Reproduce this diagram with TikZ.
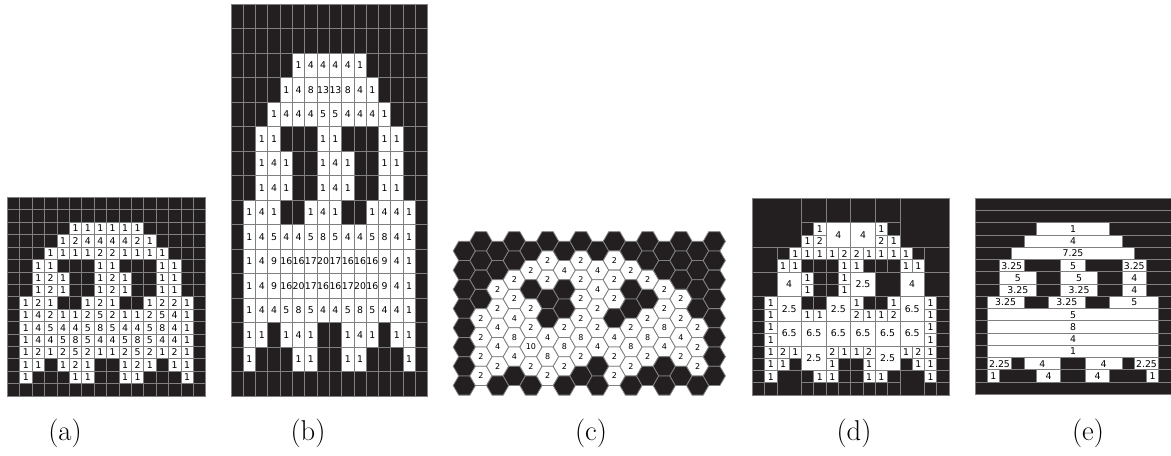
\documentclass[tikz,border=0pt]{standalone}
\usepackage{fontspec}
\usepackage{tikz}
\newfontfamily\cellfont{DejaVu Sans}
\definecolor{cellblack}{HTML}{231F20}
\definecolor{rule}{gray}{0.5}

\begin{document}
\begin{tikzpicture}[x=0.75pt,y=-0.75pt,
  blk/.style={fill=cellblack,draw=rule,line width=0.6pt},
  wht/.style={fill=white,draw=rule,line width=0.6pt},
  gridline/.style={draw=rule,line width=0.6pt},
  lbl/.style={font=\cellfont\fontsize{7}{7}\selectfont,inner sep=0pt},
  hexlbl/.style={font=\cellfont\fontsize{6}{6}\selectfont,inner sep=0pt},
  captext/.style={font=\fontsize{21.5}{25}\selectfont}]
\useasboundingbox (0,0) rectangle (1171,456);

% (a) pixel values
\begin{scope}[shift={(7.3,197.5)},scale=12.4]
\filldraw[blk] (0,0) rectangle (16,16);
\foreach \i in {1,...,15} {
  \draw[gridline] (\i,0)--(\i,16);
  \draw[gridline] (0,\i)--(16,\i);
}
\foreach \rowvals [count=\r from 0] in {
  {0,0,0,0,0,0,0,0,0,0,0,0,0,0,0,0},
  {0,0,0,0,0,0,0,0,0,0,0,0,0,0,0,0},
  {0,0,0,0,0,1,1,1,1,1,1,0,0,0,0,0},
  {0,0,0,0,1,2,4,4,4,4,2,1,0,0,0,0},
  {0,0,0,1,1,1,1,2,2,1,1,1,1,0,0,0},
  {0,0,1,1,0,0,0,1,1,0,0,0,1,1,0,0},
  {0,0,1,2,1,0,0,1,2,1,0,0,1,1,0,0},
  {0,0,1,2,1,0,0,1,2,1,0,0,1,1,0,0},
  {0,1,2,1,0,0,1,2,1,0,0,1,2,2,1,0},
  {0,1,4,2,1,1,2,5,2,1,1,2,5,4,1,0},
  {0,1,4,5,4,4,5,8,5,4,4,5,8,4,1,0},
  {0,1,4,4,5,8,5,4,4,5,8,5,4,4,1,0},
  {0,1,2,1,2,5,2,1,1,2,5,2,1,2,1,0},
  {0,1,1,0,1,2,1,0,0,1,2,1,0,1,1,0},
  {0,1,0,0,0,1,1,0,0,1,1,0,0,0,1,0},
  {0,0,0,0,0,0,0,0,0,0,0,0,0,0,0,0}}{
  \foreach \v [count=\c from 0] in \rowvals {
    \ifnum\v>0
      \filldraw[wht] (\c,\r) rectangle ++(1,1);
      \node[lbl] (a-\r-\c) at (\c+0.5,\r+0.5) {\v};
    \fi
  }
}
\end{scope}

% (b) tall cells
\begin{scope}[shift={(231,4)},xscale=12.29,yscale=24.5]
\filldraw[blk] (0,0) rectangle (16,16);
\foreach \i in {1,...,15} {
  \draw[gridline] (\i,0)--(\i,16);
  \draw[gridline] (0,\i)--(16,\i);
}
\foreach \rowvals [count=\r from 0] in {
  {0,0,0,0,0,0,0,0,0,0,0,0,0,0,0,0},
  {0,0,0,0,0,0,0,0,0,0,0,0,0,0,0,0},
  {0,0,0,0,0,1,4,4,4,4,1,0,0,0,0,0},
  {0,0,0,0,1,4,8,13,13,8,4,1,0,0,0,0},
  {0,0,0,1,4,4,4,5,5,4,4,4,1,0,0,0},
  {0,0,1,1,0,0,0,1,1,0,0,0,1,1,0,0},
  {0,0,1,4,1,0,0,1,4,1,0,0,1,1,0,0},
  {0,0,1,4,1,0,0,1,4,1,0,0,1,1,0,0},
  {0,1,4,1,0,0,1,4,1,0,0,1,4,4,1,0},
  {0,1,4,5,4,4,5,8,5,4,4,5,8,4,1,0},
  {0,1,4,9,16,16,17,20,17,16,16,16,9,4,1,0},
  {0,1,4,9,16,20,17,16,16,17,20,16,9,4,1,0},
  {0,1,4,4,5,8,5,4,4,5,8,5,4,4,1,0},
  {0,1,1,0,1,4,1,0,0,1,4,1,0,1,1,0},
  {0,1,0,0,0,1,1,0,0,1,1,0,0,0,1,0},
  {0,0,0,0,0,0,0,0,0,0,0,0,0,0,0,0}}{
  \foreach \v [count=\c from 0] in \rowvals {
    \ifnum\v>0
      \filldraw[wht] (\c,\r) rectangle ++(1,1);
      \node[lbl] (b-\r-\c) at (\c+0.5,\r+0.5) {\v};
    \fi
  }
}
\end{scope}

% (c) hexagonal cells, one list per column
\begin{scope}[shift={(464.3,241.3)}]
\foreach \colvals [count=\c from 0] in {
  {0,0,0,0,0,0,0,0},
  {0,0,0,0,2,2,2,2},
  {0,0,2,2,4,4,2,0},
  {0,0,2,2,4,8,4,0},
  {0,2,0,2,2,10,2,0},
  {0,2,2,0,0,4,8,2},
  {0,4,0,0,2,8,2,0},
  {0,2,2,2,2,8,2,0},
  {0,4,4,2,2,4,0,0},
  {0,2,2,2,0,4,2,2},
  {0,2,0,0,2,8,2,0},
  {0,0,2,0,2,8,2,0},
  {0,0,2,2,8,4,0,0},
  {0,0,0,2,2,4,2,0},
  {0,0,0,0,2,2,2,0},
  {0,0,0,0,0,0,0,0}}{
  \foreach \v [count=\k from 0] in \colvals {
    \pgfmathsetmacro\hx{16.667*\c}
    \pgfmathsetmacro\hy{19.23*\k+9.615*(1-mod(\c,2))}
    \ifnum\v>0
      \filldraw[wht] (\hx,\hy) +(0:11.1) -- +(60:11.1) -- +(120:11.1)
        -- +(180:11.1) -- +(240:11.1) -- +(300:11.1) -- cycle;
      \node[hexlbl] (c-\c-\k) at (\hx,\hy) {\v};
    \else
      \filldraw[blk] (\hx,\hy) +(0:11.1) -- +(60:11.1) -- +(120:11.1)
        -- +(180:11.1) -- +(240:11.1) -- +(300:11.1) -- cycle;
    \fi
  }
}
\end{scope}

% (d) quadtree blocks
\begin{scope}[shift={(752.3,198.3)},scale=12.3]
\foreach \c/\r/\s in {0/0/4,12/0/4,
  4/0/2,6/0/2,8/0/2,10/0/2,0/4/2,14/4/2,0/6/2,14/6/2,10/6/2,2/14/2,12/14/2,
  4/2/1,11/2/1,2/4/1,13/4/1,4/5/1,5/5/1,6/5/1,9/5/1,10/5/1,11/5/1,
  5/6/1,6/6/1,5/7/1,6/7/1,0/8/1,0/9/1,4/8/1,5/8/1,9/8/1,10/8/1,15/8/1,15/9/1,
  0/10/1,0/11/1,15/10/1,15/11/1,0/12/1,0/13/1,3/13/1,7/13/1,8/13/1,12/13/1,
  15/12/1,15/13/1,0/14/1,0/15/1,1/15/1,4/14/1,4/15/1,5/15/1,7/14/1,6/15/1,
  7/15/1,8/14/1,8/15/1,9/15/1,11/14/1,10/15/1,11/15/1,15/14/1,14/15/1,15/15/1}
  \filldraw[blk] (\c,\r) rectangle ++(\s,\s);
\foreach \c/\r/\s/\t in {6/2/2/4,8/2/2/4,2/6/2/4,12/6/2/4,8/6/2/2.5,
  2/8/2/2.5,6/8/2/2.5,12/8/2/6.5,2/10/2/6.5,4/10/2/6.5,6/10/2/6.5,
  8/10/2/6.5,10/10/2/6.5,12/10/2/6.5,4/12/2/2.5,10/12/2/2.5,
  5/2/1/1,4/3/1/1,5/3/1/2,10/2/1/1,10/3/1/2,11/3/1/1,
  3/4/1/1,2/5/1/1,3/5/1/1,4/4/1/1,5/4/1/1,6/4/1/1,7/4/1/2,7/5/1/1,
  8/4/1/2,9/4/1/1,8/5/1/1,10/4/1/1,11/4/1/1,12/4/1/1,12/5/1/1,13/5/1/1,
  4/6/1/1,4/7/1/1,7/6/1/1,7/7/1/1,
  1/8/1/1,1/9/1/1,4/9/1/1,5/9/1/1,8/8/1/1,8/9/1/2,9/9/1/1,11/8/1/1,
  10/9/1/1,11/9/1/2,14/8/1/1,14/9/1/1,1/10/1/1,1/11/1/1,14/10/1/1,14/11/1/1,
  1/12/1/1,1/13/1/1,2/12/1/2,3/12/1/1,2/13/1/1,6/12/1/2,7/12/1/1,6/13/1/1,
  8/12/1/1,9/12/1/2,9/13/1/1,12/12/1/1,13/12/1/2,13/13/1/1,14/12/1/1,14/13/1/1,
  1/14/1/1,5/14/1/1,6/14/1/1,9/14/1/1,10/14/1/1,14/14/1/1}{
  \filldraw[wht] (\c,\r) rectangle ++(\s,\s);
  \node[lbl] (d-\c-\r) at (\c+\s/2,\r+\s/2) {\t};
}
\end{scope}

% (e) row runs
\begin{scope}[shift={(975,198.3)},scale=12.25]
\foreach \r in {0,...,15}
  \filldraw[blk] (0,\r) rectangle (16,\r+1);
\foreach \r/\a/\b/\t in {2/5/11/1,3/4/12/4,4/3/13/7.25,
  5/2/4/3.25,5/7/9/5,5/12/14/3.25,
  6/2/5/5,6/7/10/5,6/12/14/4,
  7/2/5/3.25,7/7/10/3.25,7/12/14/4,
  8/1/4/3.25,8/6/9/3.25,8/11/15/5,
  9/1/15/5,10/1/15/8,11/1/15/4,12/1/15/1,
  13/1/3/2.25,13/4/7/4,13/9/12/4,13/13/15/2.25,
  14/1/2/1,14/5/7/4,14/9/11/4,14/14/15/1}{
  \filldraw[wht] (\a,\r) rectangle (\b,\r+1);
  \node[lbl] (e-\r-\a) at ({(\a+\b)/2},\r+0.5) {\t};
}
\end{scope}

\node[captext] (capa) at (65,433) {(a)};
\node[captext] (capb) at (308,433) {(b)};
\node[captext] (capc) at (591,433) {(c)};
\node[captext] (capd) at (854,433) {(d)};
\node[captext] (cape) at (1088,433) {(e)};
\end{tikzpicture}
\end{document}
